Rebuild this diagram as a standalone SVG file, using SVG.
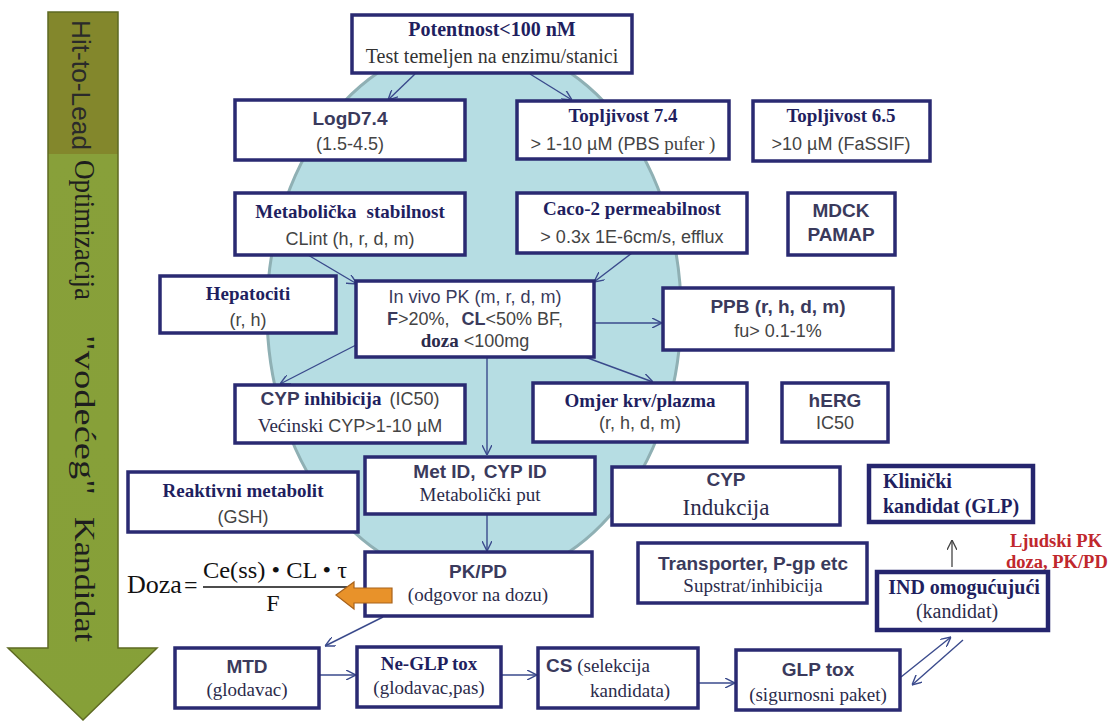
<svg xmlns="http://www.w3.org/2000/svg" width="1111" height="722" viewBox="0 0 1111 722">
<defs>
<linearGradient id="gArrow" x1="0" y1="0" x2="0" y2="1">
<stop offset="0" stop-color="#83872c"/>
<stop offset="0.2" stop-color="#83872c"/>
<stop offset="0.2" stop-color="#88a03a"/>
<stop offset="1" stop-color="#86a038"/>
</linearGradient>
<marker id="ah" viewBox="0 0 10 10" refX="10" refY="5" markerWidth="10" markerHeight="10" markerUnits="userSpaceOnUse" orient="auto">
<path d="M0,0 L10,5 L0,10" fill="none" stroke="#3a4a8c" stroke-width="1.4"/>
</marker>
<marker id="ahg" viewBox="0 0 10 10" refX="10" refY="5" markerWidth="10" markerHeight="10" markerUnits="userSpaceOnUse" orient="auto">
<path d="M0,0 L10,5 L0,10" fill="none" stroke="#444" stroke-width="1.3"/>
</marker>
</defs>
<style>
.box{fill:#fff;stroke:#2a2a72;stroke-width:3.5}
.boxb{fill:#fff;stroke:#25256e;stroke-width:4.5}
.hs{font-family:"Liberation Serif",serif;font-weight:bold;fill:#1f1f5f;font-size:19px}
.hn{font-family:"Liberation Sans",sans-serif;font-weight:bold;fill:#3a3a5c;font-size:19px}
.rn{font-family:"Liberation Sans",sans-serif;fill:#444;font-size:18px}
.rs{font-family:"Liberation Serif",serif;fill:#2b2b4b;font-size:19px}
.vt{font-family:"Liberation Serif",serif;fill:#1e1e1e;font-size:30px}
.fm{font-family:"Liberation Serif",serif;fill:#111}
.c{text-anchor:middle}
.con line{stroke:#3a4a8c;stroke-width:1.4;marker-end:url(#ah)}
</style>
<rect width="1111" height="722" fill="#fff"/>

<g id="phase-arrow">
<polygon points="48,12 118,12 118,648 157,648 83,720 8,648 48,648" fill="url(#gArrow)" stroke="#5e6a22" stroke-width="1.5"/>
<text transform="translate(72,20) rotate(90)" font-family="'Liberation Sans', sans-serif" font-size="26" fill="#2a2a2a" textLength="130" lengthAdjust="spacingAndGlyphs">Hit-to-Lead</text>
<text class="vt" transform="translate(75,160) rotate(90)" textLength="140" lengthAdjust="spacingAndGlyphs">Optimizacija</text>
<text class="vt" transform="translate(75,335) rotate(90)" textLength="160" lengthAdjust="spacingAndGlyphs">"vodećeg"</text>
<text class="vt" transform="translate(75,517) rotate(90)" textLength="125" lengthAdjust="spacingAndGlyphs">Kandidat</text>
</g>

<ellipse id="zone" cx="474" cy="312" rx="207" ry="270" fill="#b6dde3" stroke="#8fb0b4" stroke-width="3"/>

<g class="con">
<line x1="415" y1="74" x2="388" y2="100"/>
<line x1="530" y1="74" x2="572" y2="100"/>
<line x1="308" y1="255" x2="357" y2="284"/>
<line x1="632" y1="253" x2="594" y2="282"/>
<line x1="594" y1="323" x2="662" y2="323"/>
<line x1="356" y1="345" x2="280" y2="384"/>
<line x1="487" y1="357" x2="487" y2="455"/>
<line x1="585" y1="357" x2="653" y2="382"/>
<line x1="487" y1="515" x2="487" y2="551"/>
<line x1="383" y1="617" x2="325" y2="646"/>
<line x1="319" y1="675" x2="356" y2="675"/>
<line x1="501" y1="675" x2="537" y2="675"/>
<line x1="698" y1="683" x2="735" y2="683"/>
<line x1="901" y1="677" x2="951" y2="637"/>
<line x1="963" y1="640" x2="912" y2="685"/>
<line x1="952" y1="567" x2="952" y2="540" style="stroke:#444;stroke-width:1.3;marker-end:url(#ahg)"/>
</g>

<g id="potentnost">
<rect class="box" x="352" y="15" width="280" height="58"/>
<text class="hs c" x="492" y="36" style="font-size:20px">Potentnost&lt;100 nM</text>
<text class="rs c" x="492" y="63" style="font-size:20px;fill:#333">Test temeljen na enzimu/stanici</text>
</g>

<g id="logd">
<rect class="box" x="235" y="100" width="230" height="60"/>
<text class="hn c" x="350" y="125">LogD7.4</text>
<text class="rn c" x="350" y="150">(1.5-4.5)</text>
</g>

<g id="topljivost74">
<rect class="box" x="517" y="101" width="212" height="58"/>
<text class="hs c" x="623" y="122">Topljivost 7.4</text>
<text class="c" x="623" y="150"><tspan class="rn">&gt; 1-10 µM (PBS</tspan><tspan class="rs" style="fill:#444"> pufer )</tspan></text>
</g>

<g id="topljivost65">
<rect class="box" x="753" y="101" width="177" height="60"/>
<text class="hs c" x="841" y="122">Topljivost 6.5</text>
<text class="rn c" x="841" y="150">&gt;10 µM (FaSSIF)</text>
</g>

<g id="metabolicka">
<rect class="box" x="235" y="193" width="230" height="62"/>
<text class="hs c" x="350" y="218"><tspan>Metabolička</tspan><tspan dx="10">stabilnost</tspan></text>
<text class="rn c" x="350" y="245">CLint (h, r, d, m)</text>
</g>

<g id="caco2">
<rect class="box" x="517" y="193" width="230" height="60"/>
<text class="hs c" x="632" y="215">Caco-2 permeabilnost</text>
<text class="rn c" x="632" y="243">&gt; 0.3x 1E-6cm/s, efflux</text>
</g>

<g id="mdck">
<rect class="box" x="788" y="193" width="107" height="62"/>
<text class="hn c" x="841" y="217">MDCK</text>
<text class="hn c" x="841" y="241">PAMAP</text>
</g>

<g id="hepatociti">
<rect class="box" x="160" y="276" width="176" height="57"/>
<text class="hs c" x="248" y="300">Hepatociti</text>
<text class="rn c" x="248" y="326">(r, h)</text>
</g>

<g id="invivo">
<rect class="box" x="356" y="281" width="238" height="76"/>
<text class="rn c" x="475" y="303" style="fill:#3a3a5c">In vivo PK (m, r, d, m)</text>
<text class="rn c" x="475" y="325"><tspan style="font-weight:bold;fill:#3a3a5c">F</tspan><tspan>&gt;20%,</tspan><tspan dx="12" style="font-weight:bold;fill:#3a3a5c">CL</tspan><tspan>&lt;50% BF,</tspan></text>
<text class="c" x="475" y="347"><tspan class="hs" style="fill:#2b2b4b">doza</tspan><tspan class="rn"> &lt;100mg</tspan></text>
</g>

<g id="ppb">
<rect class="box" x="663" y="288" width="230" height="62"/>
<text class="hn c" x="778" y="313">PPB (r, h, d, m)</text>
<text class="rn c" x="778" y="337">fu&gt; 0.1-1%</text>
</g>

<g id="cypinhib">
<rect class="box" x="235" y="385" width="230" height="58"/>
<text class="c" x="350" y="405"><tspan class="hn">CYP</tspan><tspan class="hs"> inhibicija</tspan><tspan class="rn" dx="8">(IC50)</tspan></text>
<text class="c" x="350" y="432"><tspan class="rs">Većinski</tspan><tspan class="rn"> CYP&gt;1-10 µM</tspan></text>
</g>

<g id="omjer">
<rect class="box" x="533" y="383" width="214" height="59"/>
<text class="hs c" x="640" y="407">Omjer krv/plazma</text>
<text class="rn c" x="640" y="429">(r, h, d, m)</text>
</g>

<g id="herg">
<rect class="box" x="782" y="383" width="106" height="59"/>
<text class="hn c" x="835" y="407">hERG</text>
<text class="rn c" x="835" y="429">IC50</text>
</g>

<g id="metid">
<rect class="box" x="365" y="457" width="230" height="57"/>
<text class="hn c" x="480" y="478"><tspan>Met ID,</tspan><tspan dx="8">CYP ID</tspan></text>
<text class="rs c" x="480" y="501">Metabolički put</text>
</g>

<g id="reaktivni">
<rect class="box" x="128" y="472" width="230" height="60"/>
<text class="hs c" x="243" y="497">Reaktivni metabolit</text>
<text class="rn c" x="243" y="523">(GSH)</text>
</g>

<g id="cypinduk">
<rect class="box" x="612" y="467" width="228" height="58"/>
<text class="hn c" x="726" y="486">CYP</text>
<text class="rs c" x="726" y="515" style="font-size:23px">Indukcija</text>
</g>

<g id="klinicki">
<rect class="boxb" x="869" y="466" width="164" height="56"/>
<text class="hs" x="883" y="488" style="font-size:20px">Klinički</text>
<text class="hs" x="883" y="513" style="font-size:20px">kandidat (GLP)</text>
</g>

<g id="ljudski">
<text class="hs" x="1010" y="547" style="font-size:18.5px;fill:#c0282d">Ljudski PK</text>
<text class="hs" x="1006" y="568" style="font-size:18.5px;fill:#c0282d">doza, PK/PD</text>
</g>

<g id="pkpd">
<rect class="box" x="365" y="552" width="227" height="64"/>
<text class="hn c" x="478" y="578">PK/PD</text>
<text class="rs c" x="478" y="601">(odgovor na dozu)</text>
</g>

<g id="transporter">
<rect class="box" x="638" y="543" width="229" height="60"/>
<text class="hn c" x="753" y="570">Transporter, P-gp etc</text>
<text class="rs c" x="753" y="592">Supstrat/inhibicija</text>
</g>

<g id="ind">
<rect class="boxb" x="877" y="572" width="171" height="58"/>
<text class="hs c" x="964" y="594" style="font-size:20px">IND omogućujući</text>
<text class="rs c" x="957" y="618" style="font-size:20px">(kandidat)</text>
</g>

<g id="formula">
<text class="fm" x="127" y="593" style="font-size:26px">Doza</text>
<text class="fm" x="184" y="593" style="font-size:24px">=</text>
<text class="fm" x="203" y="578" style="font-size:24px" textLength="144" lengthAdjust="spacingAndGlyphs">Ce(ss) • CL • τ</text>
<line x1="203" y1="587" x2="347" y2="587" stroke="#111" stroke-width="1.5"/>
<text class="fm c" x="273" y="611" style="font-size:24px">F</text>
<polygon points="336,595 354,582 354,588 392,588 392,603 354,603 354,609" fill="#e8922a" stroke="#a8621b" stroke-width="1.2"/>
</g>

<g id="mtd">
<rect class="box" x="175" y="648" width="144" height="60"/>
<text class="hn c" x="247" y="673">MTD</text>
<text class="rs c" x="247" y="696">(glodavac)</text>
</g>

<g id="neglp">
<rect class="box" x="357" y="647" width="144" height="60"/>
<text class="hs c" x="429" y="670">Ne-GLP tox</text>
<text class="rs c" x="429" y="694">(glodavac,pas)</text>
</g>

<g id="cs">
<rect class="box" x="538" y="648" width="160" height="60"/>
<text x="546" y="672"><tspan class="hn">CS</tspan><tspan class="rs"> (selekcija</tspan></text>
<text class="rs" x="590" y="697">kandidata)</text>
</g>

<g id="glptox">
<rect class="box" x="736" y="650" width="164" height="60"/>
<text class="hn c" x="818" y="676">GLP tox</text>
<text class="rs c" x="818" y="701">(sigurnosni paket)</text>
</g>
</svg>
